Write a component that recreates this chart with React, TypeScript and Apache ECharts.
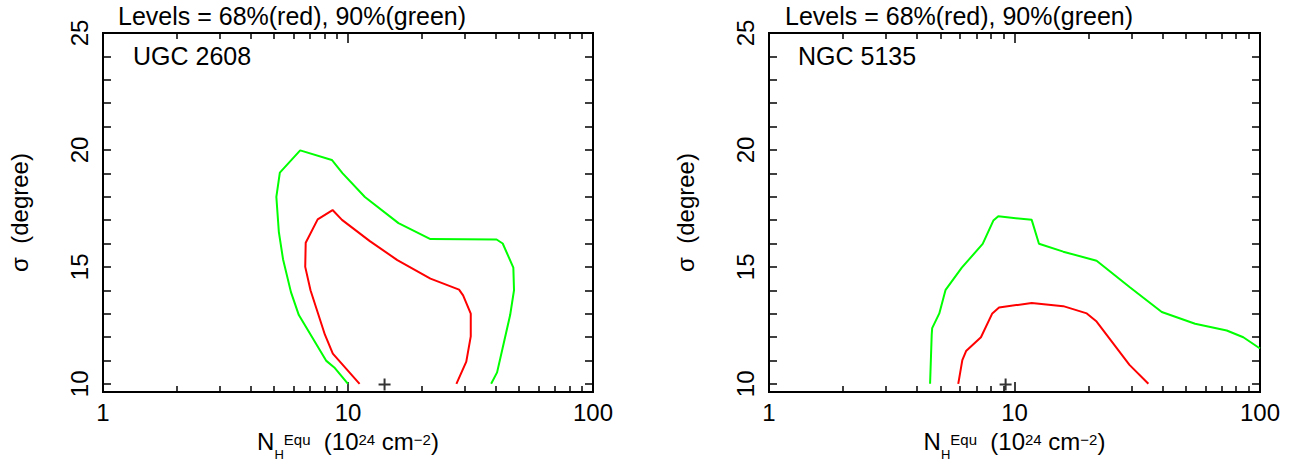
import { useEffect, useRef } from "react";
import * as echarts from "echarts";

// ---- data ----
const xMajorTicks = [1, 10, 100];
const xMinorTicks = [2, 3, 4, 5, 6, 7, 8, 9, 20, 30, 40, 50, 60, 70, 80, 90];
const yTicks = [10, 11, 12, 13, 14, 15, 16, 17, 18, 19, 20, 21, 22, 23, 24, 25];
const yLabels = [10, 15, 20, 25];
const levelsTitle = "Levels = 68%(red), 90%(green)";
const panelNames = ["UGC 2608", "NGC 5135"];

const ugcRed68 = [
  [11.15, 10], [8.67, 11.29], [8.05, 12.1], [7.03, 14.0], [6.69, 15.0], [6.72, 16.03],
  [7.52, 17.03], [8.65, 17.43], [9.45, 17.01], [12.28, 16.1], [15.9, 15.29], [21.7, 14.5],
  [28.4, 14.03], [29.5, 13.78], [31.7, 13.0], [31.7, 12.03], [30.4, 10.95], [27.7, 10],
];
const ugcGreen90 = [
  [10.0, 10], [8.79, 10.7], [8.16, 10.98], [6.3, 12.94], [5.85, 13.92], [5.43, 15.33],
  [5.22, 16.5], [5.1, 17.99], [5.27, 19.03], [6.38, 19.98], [8.59, 19.57], [9.49, 19.01],
  [11.72, 17.99], [16.07, 16.87], [21.7, 16.19], [40.4, 16.17], [42.8, 16.0], [47.3, 14.97],
  [47.6, 14.0], [45.9, 12.94], [42.8, 11.54], [40.6, 10.49], [38.4, 10],
];
const ugcBestFit = [[14.1, 9.97]];

const ngcRed68 = [
  [5.9, 10], [6.13, 11.01], [6.35, 11.4], [7.3, 11.99], [8.12, 13.01], [8.65, 13.26],
  [11.75, 13.46], [15.8, 13.32], [19.7, 13.01], [21.6, 12.66], [29.4, 10.81], [35.1, 10],
];
const ngcGreen90 = [
  [4.53, 10], [4.6, 12.1], [4.62, 12.38], [4.94, 13.01], [5.24, 14.02], [6.1, 14.97],
  [7.42, 15.98], [8.2, 16.98], [8.59, 17.16], [11.75, 17.01], [12.58, 15.99], [15.8, 15.65],
  [21.6, 15.26], [29.5, 14.13], [39.8, 13.07], [54.4, 12.57], [73.2, 12.28], [85.5, 11.99],
  [100, 11.51],
];
const ngcBestFit = [[9.2, 9.97]];

const panels = [
  { name: panelNames[0], red: ugcRed68, green: ugcGreen90, best: ugcBestFit },
  { name: panelNames[1], red: ngcRed68, green: ngcGreen90, best: ngcBestFit },
];

// ---- layout / style ----
const FONT = "'Liberation Sans', Arial, Helvetica, sans-serif";
const grids = [
  { left: 103, top: 33, width: 490, height: 365 },
  { left: 769, top: 33, width: 491, height: 365 },
];
const titlePos = [
  { title: [118, 3], name: [133, 43] },
  { title: [785, 3], name: [798, 43] },
];
const tickLine = { color: "#000", width: 1.5 };

function buildOption() {
  const xAxis: any[] = [];
  const yAxis: any[] = [];
  const series: any[] = [];
  const title: any[] = [];

  grids.forEach((g, gi) => {
    const xBase = {
      gridIndex: gi,
      type: "log",
      logBase: 10,
      min: 1,
      max: 100,
      axisLine: { show: false },
      splitLine: { show: false },
      minorTick: { show: false },
      minorSplitLine: { show: false },
    };
    xAxis.push({
      ...xBase,
      position: "bottom",
      axisTick: { show: true, inside: true, length: 10, customValues: xMajorTicks, lineStyle: tickLine },
      axisLabel: {
        show: true, fontSize: 24, color: "#000", fontFamily: FONT, margin: 8, lineHeight: 24,
        showMinLabel: true, showMaxLabel: true, hideOverlap: false,
      },
      name: "{m|N}{b|H}{s|Equ}{m|  (10}{s|24}{m| cm}{s|\u22122}{m|)}",
      nameLocation: "middle",
      nameGap: 37,
      nameMoveOverlap: false,
      nameTextStyle: {
        color: "#000",
        fontFamily: FONT,
        fontSize: 24,
        rich: {
          m: { fontSize: 24, fontFamily: FONT, color: "#000", verticalAlign: "top", padding: [0, 0, 0, 0] },
          s: { fontSize: 15, fontFamily: FONT, color: "#000", verticalAlign: "top", padding: [3, 0, 0, 0] },
          b: { fontSize: 13, fontFamily: FONT, color: "#000", verticalAlign: "top", padding: [19, 0, 0, 0] },
        },
      },
    });
    xAxis.push({
      ...xBase,
      position: "bottom",
      axisTick: { show: true, inside: true, length: 6, customValues: xMinorTicks, lineStyle: tickLine },
      axisLabel: { show: false },
    });
    xAxis.push({
      ...xBase,
      position: "top",
      axisTick: { show: true, inside: true, length: 10, customValues: xMajorTicks, lineStyle: tickLine },
      axisLabel: { show: false },
    });
    xAxis.push({
      ...xBase,
      position: "top",
      axisTick: { show: true, inside: true, length: 6, customValues: xMinorTicks, lineStyle: tickLine },
      axisLabel: { show: false },
    });

    const yBase = {
      gridIndex: gi,
      type: "value",
      min: 9.65,
      max: 25,
      axisLine: { show: false },
      splitLine: { show: false },
    };
    yAxis.push({
      ...yBase,
      position: "left",
      axisTick: { show: true, inside: true, length: 8, customValues: yTicks, lineStyle: tickLine },
      axisLabel: {
        show: true, customValues: yLabels, rotate: 90, fontSize: 24, lineHeight: 24,
        color: "#000", fontFamily: FONT, margin: 12, hideOverlap: false,
      },
      name: "\u03c3  (degree)",
      nameLocation: "middle",
      nameGap: 72,
      nameMoveOverlap: false,
      nameTextStyle: { color: "#000", fontFamily: FONT, fontSize: 24, lineHeight: 24 },
    });
    yAxis.push({
      ...yBase,
      position: "right",
      axisTick: { show: true, inside: true, length: 8, customValues: yTicks, lineStyle: tickLine },
      axisLabel: { show: false },
    });

    const p = panels[gi];
    series.push({
      type: "line", xAxisIndex: gi * 4, yAxisIndex: gi * 2, data: p.green,
      symbol: "none", showSymbol: false, silent: true,
      lineStyle: { color: "#00ff00", width: 2 },
    });
    series.push({
      type: "line", xAxisIndex: gi * 4, yAxisIndex: gi * 2, data: p.red,
      symbol: "none", showSymbol: false, silent: true,
      lineStyle: { color: "#ff0000", width: 2 },
    });
    series.push({
      type: "scatter", xAxisIndex: gi * 4, yAxisIndex: gi * 2, data: p.best,
      symbol: "path://M5,0L5,10M0,5L10,5", symbolSize: 12, silent: true,
      itemStyle: { color: "transparent", borderColor: "#000", borderWidth: 2 },
    });

    title.push({
      text: levelsTitle, left: titlePos[gi].title[0], top: titlePos[gi].title[1], padding: 0,
      textStyle: { fontSize: 25, fontWeight: "normal", color: "#000", fontFamily: FONT, lineHeight: 25 },
    });
    title.push({
      text: p.name, left: titlePos[gi].name[0], top: titlePos[gi].name[1], padding: 0,
      textStyle: { fontSize: 25, fontWeight: "normal", color: "#000", fontFamily: FONT, lineHeight: 25 },
    });
  });

  return {
    animation: false,
    backgroundColor: "#fff",
    title,
    grid: grids.map((g) => ({
      ...g, show: true, borderColor: "#000", borderWidth: 2, backgroundColor: "transparent", containLabel: false,
    })),
    xAxis,
    yAxis,
    series,
  };
}

export default function App() {
  const ref = useRef<HTMLDivElement>(null);
  useEffect(() => {
    if (!ref.current) return;
    const chart = echarts.init(ref.current, null, { renderer: "svg" });
    chart.setOption(buildOption() as any);
    return () => chart.dispose();
  }, []);
  return (
    <div
      ref={ref}
      style={{ position: "absolute", left: 0, top: 0, width: 1304, height: 466, background: "#fff" }}
    />
  );
}
